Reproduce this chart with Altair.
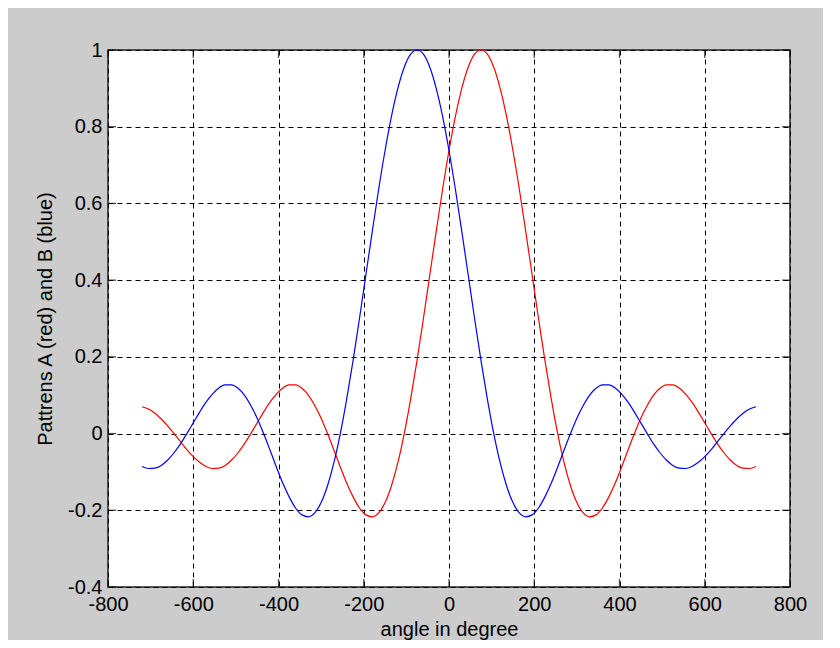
import altair as alt
import pandas as pd

# angle grid (degrees)
angle = list(range(-720, 721, 15))

# Pattern A (red), at every 15 degrees from -720 to 720
pattern_a = [
    0.070, 0.064, 0.053, 0.038, 0.020, 0.000, -0.021, -0.042, -0.060, -0.075,
    -0.086, -0.091, -0.090, -0.083, -0.069, -0.050, -0.027, 0.000, 0.028, 0.056,
    0.082, 0.103, 0.119, 0.127, 0.127, 0.118, 0.100, 0.073, 0.040, 0.000,
    -0.043, -0.087, -0.129, -0.165, -0.194, -0.212, -0.217, -0.207, -0.180, -0.136,
    -0.076, 0.000, 0.090, 0.191, 0.300, 0.414, 0.527, 0.637, 0.738, 0.827,
    0.900, 0.955, 0.989, 1.000, 0.989, 0.955, 0.900, 0.827, 0.738, 0.637,
    0.527, 0.414, 0.300, 0.191, 0.090, 0.000, -0.076, -0.136, -0.180, -0.207,
    -0.217, -0.212, -0.194, -0.165, -0.129, -0.087, -0.043, 0.000, 0.040, 0.073,
    0.100, 0.118, 0.127, 0.127, 0.119, 0.103, 0.082, 0.056, 0.028, 0.000,
    -0.027, -0.050, -0.069, -0.083, -0.090, -0.091, -0.086,
]

# Pattern B (blue), same angles
pattern_b = [
    -0.086, -0.091, -0.090, -0.083, -0.069, -0.050, -0.027, 0.000, 0.028, 0.056,
    0.082, 0.103, 0.119, 0.127, 0.127, 0.118, 0.100, 0.073, 0.040, 0.000,
    -0.043, -0.087, -0.129, -0.165, -0.194, -0.212, -0.217, -0.207, -0.180, -0.136,
    -0.076, 0.000, 0.090, 0.191, 0.300, 0.414, 0.527, 0.637, 0.738, 0.827,
    0.900, 0.955, 0.989, 1.000, 0.989, 0.955, 0.900, 0.827, 0.738, 0.637,
    0.527, 0.414, 0.300, 0.191, 0.090, 0.000, -0.076, -0.136, -0.180, -0.207,
    -0.217, -0.212, -0.194, -0.165, -0.129, -0.087, -0.043, 0.000, 0.040, 0.073,
    0.100, 0.118, 0.127, 0.127, 0.119, 0.103, 0.082, 0.056, 0.028, 0.000,
    -0.027, -0.050, -0.069, -0.083, -0.090, -0.091, -0.086, -0.075, -0.060, -0.042,
    -0.021, 0.000, 0.020, 0.038, 0.053, 0.064, 0.070,
]

series_names = ["A", "B"]
series_colors = ["#ff0000", "#0000ff"]

x_ticks = [-800, -600, -400, -200, 0, 200, 400, 600, 800]
y_ticks = [-0.4, -0.2, 0, 0.2, 0.4, 0.6, 0.8, 1]

df = pd.DataFrame({
    "angle": angle + angle,
    "value": pattern_a + pattern_b,
    "series": ["A"] * len(angle) + ["B"] * len(angle),
})
xt = pd.DataFrame({"t": x_ticks})
yt = pd.DataFrame({"t": y_ticks})

FONT = "Liberation Sans"
FS = 20

x_scale = alt.Scale(domain=[-800, 800], nice=False, zero=False)
y_scale = alt.Scale(domain=[-0.4, 1], nice=False, zero=False)

x_axis = alt.Axis(
    values=x_ticks, grid=True, gridDash=[5, 4], gridColor="black", gridOpacity=1,
    gridWidth=1, domain=False, ticks=False, tickSize=0, labelPadding=7,
    labelFlush=False, labelOverlap=False, labelExpr="'' + datum.value",
    labelFont=FONT, labelFontSize=FS, labelColor="black",
    title="angle in degree", titleFont=FONT, titleFontSize=FS,
    titleFontWeight="normal", titleColor="black", titlePadding=5,
)
y_axis = alt.Axis(
    values=y_ticks, grid=True, gridDash=[5, 4], gridColor="black", gridOpacity=1,
    gridWidth=1, domain=False, ticks=False, tickSize=0, labelPadding=6,
    labelFlush=False, labelOverlap=False, labelExpr="'' + datum.value",
    labelFont=FONT, labelFontSize=FS, labelColor="black",
    title="Pattrens A (red) and B (blue)", titleFont=FONT, titleFontSize=FS,
    titleFontWeight="normal", titleColor="black", titlePadding=12,
)

lines = alt.Chart(df).mark_line(strokeWidth=1.2, interpolate="monotone").encode(
    x=alt.X("angle:Q", scale=x_scale, axis=x_axis),
    y=alt.Y("value:Q", scale=y_scale, axis=y_axis),
    color=alt.Color("series:N", scale=alt.Scale(domain=series_names, range=series_colors), legend=None),
    order=alt.Order("angle:Q"),
)

TL = 8
tick_bottom = alt.Chart(xt).mark_tick(orient="vertical", size=TL, thickness=1.3, color="black").encode(
    x=alt.X("t:Q", scale=x_scale), y=alt.datum(-0.4), yOffset=alt.value(-TL / 2))
tick_top = alt.Chart(xt).mark_tick(orient="vertical", size=TL, thickness=1.3, color="black").encode(
    x=alt.X("t:Q", scale=x_scale), y=alt.datum(1), yOffset=alt.value(TL / 2))
tick_left = alt.Chart(yt).mark_tick(orient="horizontal", size=TL, thickness=1.3, color="black").encode(
    y=alt.Y("t:Q", scale=y_scale), x=alt.datum(-800), xOffset=alt.value(TL / 2))
tick_right = alt.Chart(yt).mark_tick(orient="horizontal", size=TL, thickness=1.3, color="black").encode(
    y=alt.Y("t:Q", scale=y_scale), x=alt.datum(800), xOffset=alt.value(-TL / 2))

chart = alt.layer(lines, tick_bottom, tick_top, tick_left, tick_right).properties(
    width=682, height=537,
    padding={"left": 100, "top": 42, "right": 33, "bottom": 53},
    autosize=alt.AutoSizeParams(type="none"),
    background="#cccccc",
).configure_view(
    fill="white", stroke="#222222", strokeWidth=1.5,
)

chart.save("out.html", embed_options={"renderer": "svg", "actions": False})
